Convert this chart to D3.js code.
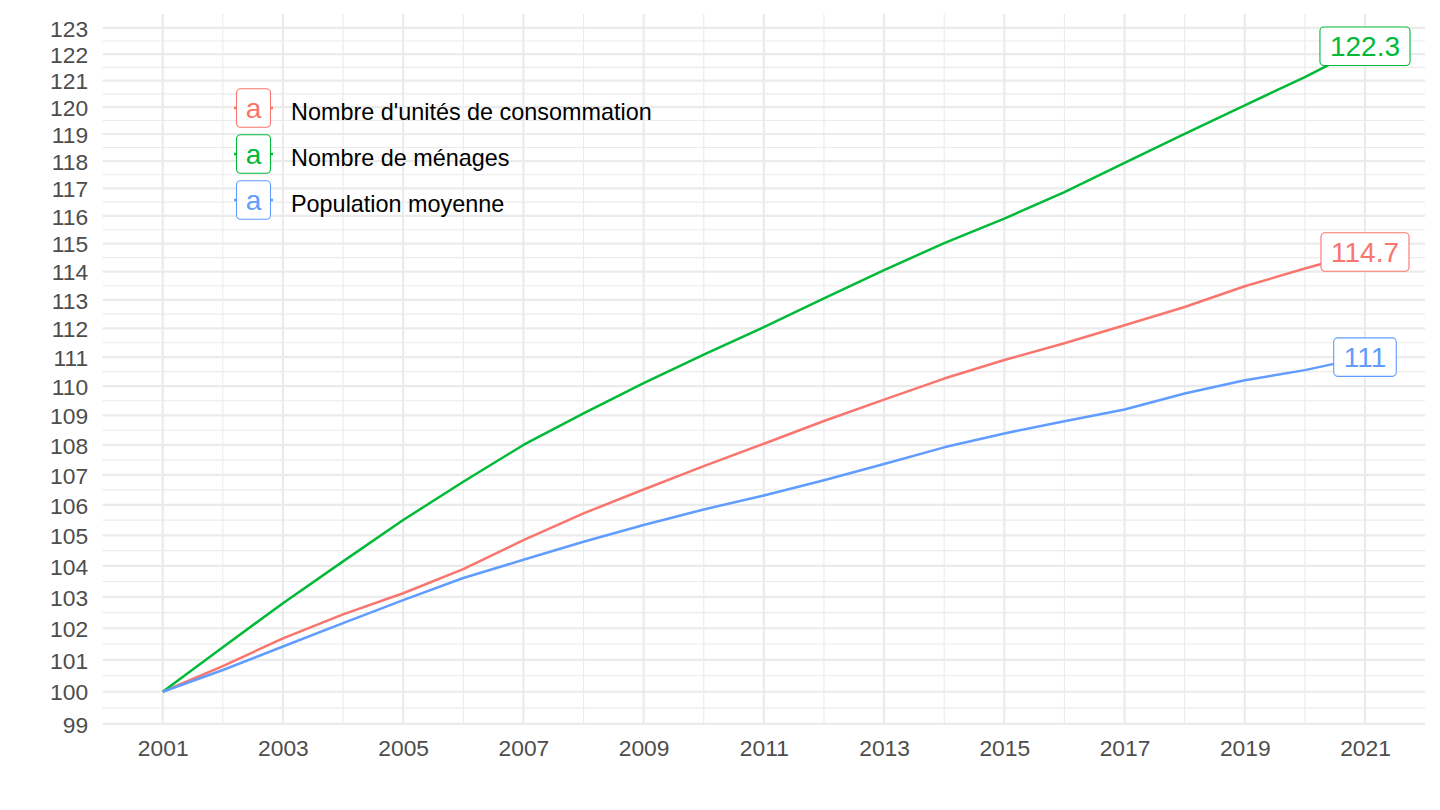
<!DOCTYPE html>
<html>
<head>
<meta charset="utf-8">
<script src="https://cdn.jsdelivr.net/npm/d3@7"></script>
<style>
  html, body { margin: 0; padding: 0; background: #ffffff; }
  svg { display: block; font-family: "Liberation Sans", Arial, Helvetica, sans-serif; }
</style>
</head>
<body>
<svg id="chart" width="1440" height="810"></svg>
<script>
// ---- Data ----
const years = [2001,2002,2003,2004,2005,2006,2007,2008,2009,2010,2011,2012,2013,2014,2015,2016,2017,2018,2019,2020,2021];
const seriesNames = ["Nombre d'unités de consommation", "Nombre de ménages", "Population moyenne"];
const uniteConso = [100,100.8,101.68,102.44,103.12,103.9,104.84,105.72,106.51,107.29,108.04,108.81,109.54,110.26,110.9,111.48,112.11,112.75,113.48,114.11,114.7];
const menages    = [100,101.4,102.8,104.15,105.5,106.77,108.0,109.07,110.1,111.09,112.04,113.05,114.05,115.02,115.9,116.86,117.93,119.0,120.07,121.13,122.3];
const population = [100,100.68,101.42,102.16,102.9,103.61,104.2,104.79,105.34,105.85,106.31,106.82,107.36,107.92,108.39,108.8,109.2,109.75,110.2,110.55,111.0];
const endLabels = ["114.7", "122.3", "111"];
const colors = ["#F8766D", "#00BA38", "#619CFF"];
const yTicks = [99,100,101,102,103,104,105,106,107,108,109,110,111,112,113,114,115,116,117,118,119,120,121,122,123];
const xTicks = [2001,2003,2005,2007,2009,2011,2013,2015,2017,2019,2021];
const xMinor = [2002,2004,2006,2008,2010,2012,2014,2016,2018,2020];

const seriesValues = [uniteConso, menages, population];
const series = seriesNames.map((name, i) => ({
  name, color: colors[i], label: endLabels[i],
  values: years.map((y, j) => ({ year: y, value: seriesValues[i][j] }))
}));

// ---- Layout ----
const svg = d3.select("#chart");
const panel = { left: 102.6, right: 1425.1, top: 14, bottom: 724 };
const font = "'Liberation Sans', Arial, Helvetica, sans-serif";

// x: data range expanded 5% each side
const xMin = d3.min(years), xMax = d3.max(years);
const xPad = (xMax - xMin) * 0.05;
const x = d3.scaleLinear().domain([xMin - xPad, xMax + xPad]).range([panel.left, panel.right]);

// y: log scale, data range expanded 5% in log space
const allVals = seriesValues.flat();
const lmin = Math.log(d3.min(allVals)), lmax = Math.log(d3.max(allVals));
const lpad = (lmax - lmin) * 0.05;
const y = d3.scaleLog().domain([Math.exp(lmin - lpad), Math.exp(lmax + lpad)]).range([panel.bottom, panel.top]);

const gridColor = "#EBEBEB";
const grid = svg.append("g");

// minor horizontal grid (geometric midpoints)
const yMinor = yTicks.slice(0, -1).map((t, i) => Math.sqrt(t * yTicks[i + 1]));
grid.selectAll(".yminor").data(yMinor).join("line")
  .attr("x1", panel.left).attr("x2", panel.right)
  .attr("y1", d => y(d)).attr("y2", d => y(d))
  .attr("stroke", gridColor).attr("stroke-width", 1.1);
// minor vertical grid
grid.selectAll(".xminor").data(xMinor).join("line")
  .attr("y1", panel.top).attr("y2", panel.bottom)
  .attr("x1", d => x(d)).attr("x2", d => x(d))
  .attr("stroke", gridColor).attr("stroke-width", 1.1);
// major horizontal grid
grid.selectAll(".ymajor").data(yTicks).join("line")
  .attr("x1", panel.left).attr("x2", panel.right)
  .attr("y1", d => y(d)).attr("y2", d => y(d))
  .attr("stroke", gridColor).attr("stroke-width", 2.2);
// major vertical grid
grid.selectAll(".xmajor").data(xTicks).join("line")
  .attr("y1", panel.top).attr("y2", panel.bottom)
  .attr("x1", d => x(d)).attr("x2", d => x(d))
  .attr("stroke", gridColor).attr("stroke-width", 2.2);

// ---- Axes (text only) ----
const yAxis = d3.axisLeft(y).tickValues(yTicks).tickFormat(d3.format("d")).tickSize(0).tickPadding(0);
const gy = svg.append("g").attr("transform", `translate(${panel.left - 14.5},0)`).call(yAxis);
gy.select(".domain").remove();
gy.selectAll("text").attr("fill", "#4D4D4D").style("font-size", "22.8px").style("font-family", font).attr("dy", "0.36em");

const xAxis = d3.axisBottom(x).tickValues(xTicks).tickFormat(d3.format("d")).tickSize(0).tickPadding(0);
const gx = svg.append("g").attr("transform", `translate(0,${panel.bottom + 15.5})`).call(xAxis);
gx.select(".domain").remove();
gx.selectAll("text").attr("fill", "#4D4D4D").style("font-size", "22.8px").style("font-family", font).attr("dy", "0.71em");

// ---- Lines ----
const line = d3.line().x(d => x(d.year)).y(d => y(d.value));
svg.append("g").selectAll("path").data(series).join("path")
  .attr("d", d => line(d.values))
  .attr("fill", "none")
  .attr("stroke", d => d.color)
  .attr("stroke-width", 2.5)
  .attr("stroke-linejoin", "round");

// ---- End labels ----
const labelFont = 28;
const padX = 10, boxH = 38.5;
const lab = svg.append("g").selectAll("g").data(series).join("g")
  .attr("transform", d => { const last = d.values[d.values.length - 1]; return `translate(${x(last.year)},${y(last.value)})`; });
lab.each(function(d) {
  const g = d3.select(this);
  const rect = g.append("rect");
  const t = g.append("text").text(d.label)
    .attr("text-anchor", "middle").attr("dy", "0.36em")
    .attr("fill", d.color).style("font-size", labelFont + "px").style("font-family", font);
  const w = t.node().getComputedTextLength() + 2 * padX;
  rect.attr("x", -w / 2).attr("y", -boxH / 2).attr("width", w).attr("height", boxH)
    .attr("rx", 4).attr("ry", 4)
    .attr("fill", "#ffffff").attr("stroke", d.color).attr("stroke-width", 1.1);
  t.raise();
});

// ---- Legend ----
const legend = svg.append("g").attr("transform", "translate(253.5,108)");
const leg = legend.selectAll("g").data(series).join("g")
  .attr("transform", (d, i) => `translate(0,${i * 46})`);
leg.append("line").attr("x1", -19.5).attr("x2", 19.5).attr("y1", 0).attr("y2", 0)
  .attr("stroke", d => d.color).attr("stroke-width", 2.5);
leg.each(function(d) {
  const g = d3.select(this);
  const rect = g.append("rect");
  const t = g.append("text").text("a")
    .attr("text-anchor", "middle").attr("dy", "0.36em")
    .attr("fill", d.color).style("font-size", labelFont + "px").style("font-family", font);
  const w = t.node().getComputedTextLength() + 2 * 9.2;
  rect.attr("x", -w / 2).attr("y", -boxH / 2).attr("width", w).attr("height", boxH)
    .attr("rx", 4).attr("ry", 4)
    .attr("fill", "#ffffff").attr("stroke", d.color).attr("stroke-width", 1.1);
  t.raise();
});
leg.append("text").text(d => d.name)
  .attr("x", 37.5).attr("y", 4).attr("dy", "0.36em")
  .attr("fill", "#000000").style("font-size", "23.4px").style("font-family", font);
</script>
</body>
</html>
